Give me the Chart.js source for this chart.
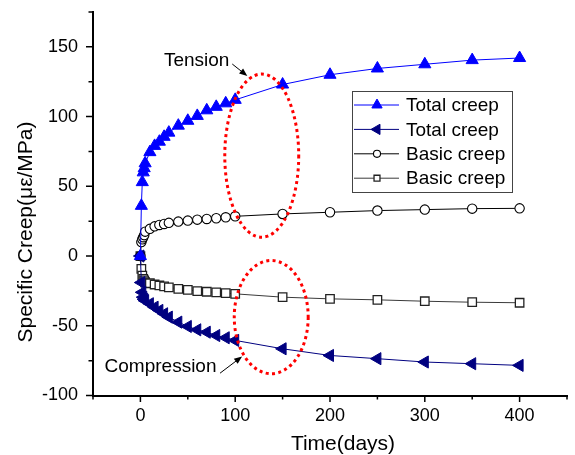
<!DOCTYPE html>
<html>
<head>
<meta charset="utf-8">
<script src="https://cdn.jsdelivr.net/npm/chart.js@4.4.1/dist/chart.umd.min.js"></script>
<style>
  html, body { margin: 0; padding: 0; background: #fff; }
  #wrap { width: 575px; height: 455px; }
</style>
</head>
<body>
<div id="wrap"><canvas id="creepGraph" width="575" height="455"></canvas></div>
<script>
// values (days, specific creep in µε/MPa)
const days = [0, 1, 2, 3, 4, 5, 10, 15, 20, 25, 30, 40, 50, 60, 70, 80, 90, 100, 150, 200, 250, 300, 350, 400];
const totalTension = [0, 36, 53, 60, 63, 66.5, 74.5, 79, 82, 85.5, 88.5, 93.5, 97, 100.5, 104.5, 107, 109.5, 112, 123, 130, 134.5, 137.5, 140.5, 142];
const totalCompression = [0, -19, -26, -29.5, -31, -32, -34.2, -36.7, -39, -41.4, -43.8, -47.4, -50.5, -52.9, -54.6, -57, -58.6, -60.5, -66.5, -71.3, -73.6, -76, -77.2, -78.4];
const basicTension = [0, 10, 12, 13.5, 15, 17.5, 19.5, 21.3, 22.3, 23, 23.8, 24.7, 25.4, 26.1, 26.6, 27.1, 27.8, 28.5, 30.2, 31.4, 32.6, 33.3, 34, 34.2];
const basicCompression = [0, -9.2, -14, -16.3, -17.5, -18.8, -19.5, -20.4, -21.1, -21.8, -22.5, -23.5, -24.2, -25.2, -25.6, -26.1, -26.6, -27.1, -29.5, -30.7, -31.4, -32.4, -33.1, -33.5];

const seriesNames = ['Total creep', 'Total creep', 'Basic creep', 'Basic creep'];
const xTickValues = [0, 100, 200, 300, 400];
const yTickValues = [-100, -50, 0, 50, 100, 150];
const xTitle = 'Time(days)';
const yTitle = 'Specific Creep(\u03BC\u03B5/MPa)';

const FONT = '"Liberation Sans", Arial, sans-serif';

function toPoints(values) {
  return values.map((v, i) => ({ x: days[i], y: v }));
}

// minor + major tick marks, pointing outwards, and the axis titles
const tickMarks = {
  id: 'tickMarks',
  afterDraw(chart) {
    const { ctx, chartArea, scales: { x, y } } = chart;
    ctx.save();
    ctx.strokeStyle = '#000';
    ctx.lineWidth = 1.5;
    ctx.beginPath();
    for (let v = -50; v <= 450; v += 50) {
      const px = x.getPixelForValue(v);
      const len = v % 100 === 0 ? 6.5 : 4;
      ctx.moveTo(px, chartArea.bottom);
      ctx.lineTo(px, chartArea.bottom + len);
    }
    for (let v = -100; v <= 175; v += 25) {
      const py = y.getPixelForValue(v);
      const len = v % 50 === 0 ? 7 : 4.5;
      ctx.moveTo(chartArea.left, py);
      ctx.lineTo(chartArea.left - len, py);
    }
    ctx.stroke();

    ctx.fillStyle = '#000';
    ctx.font = '21px ' + FONT;
    ctx.textAlign = 'center';
    ctx.textBaseline = 'alphabetic';
    ctx.fillText(xTitle, 343, 450);
    ctx.translate(32, 232);
    ctx.rotate(-Math.PI / 2);
    ctx.fillText(yTitle, 0, 0);
    ctx.restore();
  }
};

// dotted ellipses and the two arrow notes
const notes = {
  id: 'notes',
  afterDatasetsDraw(chart) {
    const { ctx, scales: { x, y } } = chart;
    const ellipses = [
      { cx: 128, cy: 72, rx: 39, ry: 58.5 },
      { cx: 138, cy: -43.8, rx: 39, ry: 40.6 }
    ];
    ctx.save();
    ctx.strokeStyle = '#FF0000';
    ctx.lineWidth = 3;
    ctx.setLineDash([3, 3.4]);
    ellipses.forEach(e => {
      const px = x.getPixelForValue(e.cx);
      const py = y.getPixelForValue(e.cy);
      const rx = Math.abs(x.getPixelForValue(e.cx + e.rx) - px);
      const ry = Math.abs(y.getPixelForValue(e.cy + e.ry) - py);
      ctx.beginPath();
      ctx.ellipse(px, py, rx, ry, 0, 0, Math.PI * 2);
      ctx.stroke();
    });
    ctx.setLineDash([]);

    const labels = [
      { text: 'Tension', tx: 24.8, ty: 136.1, from: [96.9, 137.7], to: [112.8, 129.1] },
      { text: 'Compression', tx: -37.8, ty: -83.2, from: [84, -84], to: [107.3, -72] }
    ];
    ctx.fillStyle = '#000';
    ctx.strokeStyle = '#000';
    ctx.lineWidth = 1;
    ctx.font = '19px ' + FONT;
    ctx.textAlign = 'left';
    ctx.textBaseline = 'alphabetic';
    labels.forEach(l => {
      ctx.fillText(l.text, x.getPixelForValue(l.tx), y.getPixelForValue(l.ty));
      const x1 = x.getPixelForValue(l.from[0]), y1 = y.getPixelForValue(l.from[1]);
      const x2 = x.getPixelForValue(l.to[0]), y2 = y.getPixelForValue(l.to[1]);
      const ang = Math.atan2(y2 - y1, x2 - x1);
      ctx.beginPath();
      ctx.moveTo(x1, y1);
      ctx.lineTo(x2 - 6 * Math.cos(ang), y2 - 6 * Math.sin(ang));
      ctx.stroke();
      ctx.beginPath();
      ctx.moveTo(x2, y2);
      ctx.lineTo(x2 - 8 * Math.cos(ang) + 3.2 * Math.sin(ang), y2 - 8 * Math.sin(ang) - 3.2 * Math.cos(ang));
      ctx.lineTo(x2 - 8 * Math.cos(ang) - 3.2 * Math.sin(ang), y2 - 8 * Math.sin(ang) + 3.2 * Math.cos(ang));
      ctx.closePath();
      ctx.fill();
    });
    ctx.restore();
  }
};

// boxed legend, line through the marker like the original
const boxLegend = {
  id: 'boxLegend',
  afterDraw(chart) {
    const { ctx } = chart;
    const box = { left: 352, top: 91, width: 160, height: 101 };
    const rowGap = 24.4;
    const markerScale = [0.85, 0.85, 0.75, 0.7];
    ctx.save();
    ctx.fillStyle = '#fff';
    ctx.fillRect(box.left, box.top, box.width, box.height);
    ctx.strokeStyle = '#444';
    ctx.lineWidth = 1;
    ctx.strokeRect(box.left + 0.5, box.top + 0.5, box.width, box.height);
    chart.data.datasets.forEach((ds, i) => {
      const yy = box.top + 14 + i * rowGap;
      ctx.strokeStyle = ds.borderColor;
      ctx.lineWidth = 1;
      ctx.beginPath();
      ctx.moveTo(box.left + 2, yy);
      ctx.lineTo(box.left + 47, yy);
      ctx.stroke();
      ctx.fillStyle = ds.pointBackgroundColor;
      ctx.strokeStyle = ds.pointBorderColor;
      ctx.lineWidth = ds.pointBorderWidth;
      Chart.helpers.drawPoint(ctx, {
        pointStyle: ds.pointStyle,
        rotation: ds.pointRotation || 0,
        radius: ds.pointRadius * markerScale[i],
        borderWidth: ds.pointBorderWidth
      }, box.left + 25, yy);
      ctx.fillStyle = '#000';
      ctx.font = '19px ' + FONT;
      ctx.textAlign = 'left';
      ctx.textBaseline = 'middle';
      ctx.fillText(ds.label, box.left + 54, yy + 1);
    });
    ctx.restore();
  }
};

const creepGraph = new Chart(document.getElementById('creepGraph').getContext('2d'), {
  type: 'line',
  data: {
    datasets: [
      {
        label: seriesNames[0],
        data: toPoints(totalTension),
        borderColor: '#0000FF',
        backgroundColor: '#0000FF',
        borderWidth: 1,
        pointStyle: 'triangle',
        pointRadius: 7,
        pointBorderWidth: 1,
        pointBackgroundColor: '#0000FF',
        pointBorderColor: '#0000FF'
      },
      {
        label: seriesNames[1],
        data: toPoints(totalCompression),
        borderColor: '#000080',
        backgroundColor: '#000080',
        borderWidth: 1,
        pointStyle: 'triangle',
        pointRotation: -90,
        pointRadius: 7,
        pointBorderWidth: 1,
        pointBackgroundColor: '#000080',
        pointBorderColor: '#000080'
      },
      {
        label: seriesNames[2],
        data: toPoints(basicTension),
        borderColor: '#000000',
        backgroundColor: '#FFFFFF',
        borderWidth: 1,
        pointStyle: 'circle',
        pointRadius: 4.7,
        pointBorderWidth: 1.1,
        pointBackgroundColor: '#FFFFFF',
        pointBorderColor: '#000000'
      },
      {
        label: seriesNames[3],
        data: toPoints(basicCompression),
        borderColor: '#3a3a3a',
        backgroundColor: '#FFFFFF',
        borderWidth: 1,
        pointStyle: 'rect',
        pointRadius: 6,
        pointBorderWidth: 1.3,
        pointBackgroundColor: '#FFFFFF',
        pointBorderColor: '#222222'
      }
    ]
  },
  options: {
    responsive: false,
    animation: false,
    devicePixelRatio: 1,
    layout: { padding: { top: 12, right: 0, left: 0, bottom: 0 } },
    plugins: {
      legend: { display: false },
      tooltip: { enabled: false }
    },
    elements: { line: { tension: 0 } },
    scales: {
      x: {
        type: 'linear',
        min: -50,
        max: 450,
        afterBuildTicks: scale => { scale.ticks = xTickValues.map(v => ({ value: v })); },
        afterFit: scale => {
          scale.height = 59.5;
          scale.paddingLeft = 0;
          scale.paddingRight = 0;
        },
        grid: { display: false, drawTicks: true, tickLength: 7 },
        border: { display: true, color: '#000', width: 2 },
        ticks: { color: '#000', font: { family: FONT, size: 18 }, padding: 3, maxRotation: 0 }
      },
      y: {
        type: 'linear',
        min: -100,
        max: 175,
        afterBuildTicks: scale => { scale.ticks = yTickValues.map(v => ({ value: v })); },
        afterFit: scale => {
          scale.width = 93;
          scale.paddingTop = 0;
          scale.paddingBottom = 0;
        },
        grid: { display: false, drawTicks: true, tickLength: 7 },
        border: { display: true, color: '#000', width: 2 },
        ticks: { color: '#000', font: { family: FONT, size: 18 }, padding: 8 }
      }
    }
  },
  plugins: [tickMarks, notes, boxLegend]
});
</script>
</body>
</html>
